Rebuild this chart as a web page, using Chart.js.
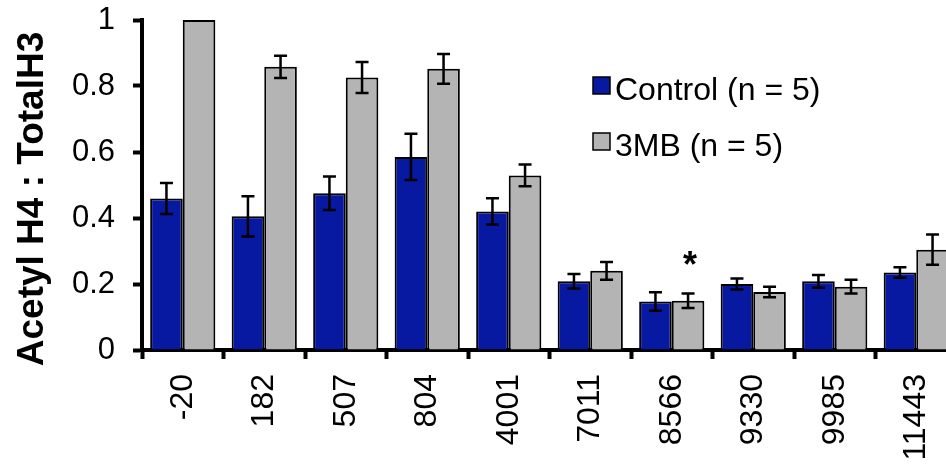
<!DOCTYPE html>
<html>
<head>
<meta charset="utf-8">
<script src="https://cdn.jsdelivr.net/npm/chart.js@4/dist/chart.umd.min.js"></script>
<style>
  html, body { margin: 0; padding: 0; background: #fff; overflow: hidden; }
  #wrap { width: 980px; height: 464px; }
</style>
</head>
<body>
<div id="wrap"><canvas id="chart" width="980" height="464"></canvas></div>
<script>
// Promoter positions (bp) along the x axis
const categories = ['-20', '182', '507', '804', '4001', '7011', '8566', '9330', '9985', '11443'];

// Control group: mean ratio and standard error
const controlMeans  = [0.459, 0.405, 0.475, 0.585, 0.420, 0.208, 0.147, 0.200, 0.208, 0.235];
const controlErrors = [0.047, 0.061, 0.051, 0.070, 0.040, 0.022, 0.028, 0.017, 0.019, 0.016];

// 3MB group: mean ratio and standard error
const mbMeans  = [1.000, 0.858, 0.826, 0.852, 0.529, 0.240, 0.149, 0.176, 0.192, 0.304];
const mbErrors = [null, 0.034, 0.047, 0.045, 0.033, 0.027, 0.022, 0.016, 0.021, 0.046];
const mbMarks  = ['', '', '', '', '', '', '*', '', '', ''];

// Y axis range and step
const yMin = 0, yMax = 1, yStep = 0.2;

const seriesNames = ['Control (n = 5)', '3MB (n = 5)'];
const axisTitle = 'Acetyl H4 : TotalH3';

const FONT = '"Liberation Sans", Arial, Helvetica, sans-serif';
const BLUE = '#0619A0';
const GREY = '#B4B4B4';

// Error bars with caps, plus significance marks above bars
const errorBars = {
  id: 'errorBars',
  afterDatasetsDraw(chart) {
    const { ctx, chartArea, scales: { y } } = chart;
    ctx.save();
    ctx.beginPath();
    ctx.rect(chartArea.left, chartArea.top - 1, chartArea.right - chartArea.left, chartArea.bottom - chartArea.top + 1);
    ctx.clip();
    chart.data.datasets.forEach((ds, i) => {
      const meta = chart.getDatasetMeta(i);
      meta.data.forEach((bar, j) => {
        const e = ds.errors[j];
        if (e == null) return;
        const v = ds.data[j];
        const yt = y.getPixelForValue(v + e);
        const yb = y.getPixelForValue(v - e);
        const half = 6.5;
        ctx.strokeStyle = '#000';
        ctx.lineWidth = 2.5;
        ctx.beginPath();
        ctx.moveTo(bar.x, yt); ctx.lineTo(bar.x, yb);
        ctx.moveTo(bar.x - half, yt); ctx.lineTo(bar.x + half, yt);
        ctx.moveTo(bar.x - half, yb); ctx.lineTo(bar.x + half, yb);
        ctx.stroke();
      });
    });
    ctx.restore();

    ctx.save();
    chart.data.datasets.forEach((ds, i) => {
      if (!ds.marks) return;
      const meta = chart.getDatasetMeta(i);
      meta.data.forEach((bar, j) => {
        const m = ds.marks[j];
        if (!m) return;
        const v = ds.data[j] + (ds.errors[j] || 0);
        ctx.fillStyle = '#000';
        ctx.font = 'bold 36px ' + FONT;
        ctx.textAlign = 'center';
        ctx.textBaseline = 'alphabetic';
        ctx.fillText(m, bar.x + 2, y.getPixelForValue(v) - 17);
      });
    });
    ctx.restore();
  }
};

// Legend placed inside the plot, upper right
const insideLegend = {
  id: 'insideLegend',
  afterDraw(chart) {
    const { ctx } = chart;
    const x0 = 593, size = 17, rows = [77, 133];
    ctx.save();
    chart.data.datasets.forEach((ds, i) => {
      const top = rows[i];
      ctx.fillStyle = ds.backgroundColor;
      ctx.fillRect(x0, top, size, size);
      ctx.strokeStyle = '#000';
      ctx.lineWidth = 1.5;
      ctx.strokeRect(x0, top, size, size);
      ctx.fillStyle = '#000';
      ctx.font = '32px ' + FONT;
      ctx.textAlign = 'left';
      ctx.textBaseline = 'alphabetic';
      ctx.fillText(ds.label, x0 + 22, top + 23);
    });
    ctx.restore();
  }
};

// Bold rotated y-axis title
const yTitle = {
  id: 'yTitle',
  afterDraw(chart) {
    const { ctx } = chart;
    ctx.save();
    ctx.translate(43, 199);
    ctx.rotate(-Math.PI / 2);
    ctx.fillStyle = '#000';
    ctx.font = 'bold 37px ' + FONT;
    ctx.textAlign = 'center';
    ctx.textBaseline = 'alphabetic';
    ctx.fillText(axisTitle, 0, 0);
    ctx.restore();
  }
};

const chart = new Chart(document.getElementById('chart'), {
  type: 'bar',
  data: {
    labels: categories,
    datasets: [
      {
        label: seriesNames[0],
        data: controlMeans,
        errors: controlErrors,
        backgroundColor: BLUE,
        borderColor: '#000',
        borderWidth: 2,
        categoryPercentage: 0.8,
        barPercentage: 1.0
      },
      {
        label: seriesNames[1],
        data: mbMeans,
        errors: mbErrors,
        marks: mbMarks,
        backgroundColor: GREY,
        borderColor: '#000',
        borderWidth: 2,
        categoryPercentage: 0.8,
        barPercentage: 1.0
      }
    ]
  },
  options: {
    responsive: false,
    animation: false,
    layout: { padding: { top: 20, right: 23, left: 0, bottom: 0 } },
    plugins: { legend: { display: false }, tooltip: { enabled: false } },
    scales: {
      x: {
        grid: { offset: true, drawOnChartArea: false, color: '#000', tickLength: 9, tickWidth: 4 },
        border: { color: '#000', width: 4 },
        ticks: {
          color: '#000', font: { family: FONT, size: 32 },
          minRotation: 90, maxRotation: 90, padding: 15, autoSkip: false
        },
        afterFit(scale) { scale.height = 114; scale.paddingLeft = 0; scale.paddingRight = 0; }
      },
      y: {
        min: yMin, max: yMax,
        grid: { drawOnChartArea: false, color: '#000', tickLength: 9, tickWidth: 4 },
        border: { color: '#000', width: 4 },
        ticks: {
          stepSize: yStep, color: '#000', font: { family: FONT, size: 31 }, padding: 18,
          callback: (v) => String(Number(v.toFixed(1)))
        },
        afterFit(scale) { scale.width = 142; scale.paddingTop = 0; scale.paddingBottom = 0; }
      }
    }
  },
  plugins: [errorBars, insideLegend, yTitle]
});
</script>
</body>
</html>
